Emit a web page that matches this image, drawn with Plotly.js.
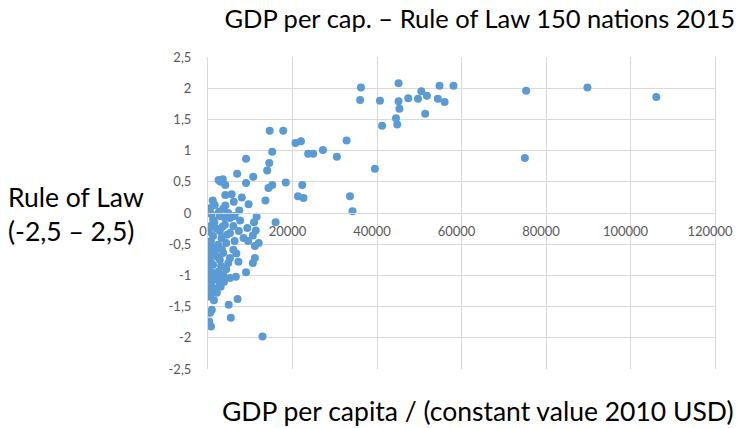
<!DOCTYPE html>
<html>
<head>
<meta charset="utf-8">
<script src="https://cdn.plot.ly/plotly-3.0.1.min.js"></script>
<style>html,body{margin:0;padding:0;background:#fff;}#chart{width:739px;height:428px;}</style>
</head>
<body>
<div id="chart"></div>
<script>
// GDP per capita (constant 2010 USD)
const gdpPerCapita = [
  36200, 36000, 14600, 17800, 20700, 22000, 15200, 23700, 24900, 27200,
  30500, 32800, 9000, 14500, 14000, 6900, 10700, 2500, 3500, 3000,
  4100, 9000, 15200, 14300, 18400, 22300, 21300, 22600, 33600, 34200,
  4100, 6100, 9600, 13600, 7400, 500, 1600, 3600,
  45100, 54800, 58100, 50500, 51800, 49700, 47400, 45100, 45300, 40700,
  54400, 56000, 51400, 44500, 44800, 41200, 75300, 75000, 39500,
  89800, 106100,
  12900, 16000, 11500, 10900, 7600, 5200, 2800, 1200, 500, 4000,
  6000, 9300, 7300, 5200, 2800, 1200, 10600, 9500, 11100, 6300,
  4300, 2400, 500, 6000, 3600, 1200, 100, 5200, 2800, 11100,
  10600, 7200, 4800, 1200, 100, 2400, 3600, 5200, 1600, 100,
  2800, 1200, 500, 4900, 7000, 500, 5400, 300, 700, 500,
  4000, 6300, 4800,
  800, 1900, 3200, 700, 1900, 3100, 600, 1900, 400, 2100,
  900, 3800, 4300, 1500, 3400, 6700, 8400, 3300, 1000, 2200,
  800, 4500, 200, 2600, 5600, 8000, 1400, 6600, 3000, 12000,
  11300, 9000, 900, 300, 2300, 700, 4100, 1100
];
// Rule of Law index (-2.5 .. 2.5)
const ruleOfLaw = [
  2.01, 1.81, 1.32, 1.32, 1.12, 1.15, 0.98, 0.95, 0.95, 1.01,
  0.90, 1.16, 0.87, 0.80, 0.68, 0.63, 0.58, 0.53, 0.54, 0.50,
  0.45, 0.48, 0.45, 0.40, 0.49, 0.45, 0.27, 0.24, 0.27, 0.03,
  0.29, 0.18, 0.14, 0.20, 0.04, 0.08, 0.13, 0.07,
  2.08, 2.04, 2.04, 1.95, 1.88, 1.83, 1.84, 1.79, 1.67, 1.80,
  1.83, 1.78, 1.59, 1.52, 1.42, 1.40, 1.96, 0.88, 0.71,
  2.01, 1.86,
  -1.98, -0.15, -0.06, -0.15, -0.12, -0.08, -0.05, -0.11, -0.21, -0.19,
  -0.21, -0.24, -0.29, -0.32, -0.29, -0.37, -0.36, -0.45, -0.53, -0.45,
  -0.48, -0.51, -0.53, -0.59, -0.64, -0.67, -0.61, -0.72, -0.75, -0.72,
  -0.80, -0.78, -0.80, -0.83, -0.88, -0.94, -0.99, -1.04, -1.07, -1.12,
  -1.15, -1.20, -1.34, -1.47, -1.38, -1.60, -1.68, -1.74, -1.82, -1.18,
  -0.08, -0.05, 0.00,
  -0.02, -0.25, -0.40, -0.45, -0.58, -0.85, -0.78, -0.98, -1.00, -1.28,
  -1.25, -1.10, -0.90, -0.15, -0.22, -0.65, -0.40, -0.58, -0.55, -0.70,
  -0.95, -0.35, -0.30, 0.02, 0.30, 0.25, -1.40, -1.02, -1.18, -0.48,
  -0.28, -0.95, -1.55, -0.70, -1.05, -1.12, 0.12, 0.20
];
const xTickVals = [0, 20000, 40000, 60000, 80000, 100000, 120000];
const xTickText = ['0', '20000', '40000', '60000', '80000', '100000', '120000'];
const yTickVals = [-2.5, -2, -1.5, -1, -0.5, 0, 0.5, 1, 1.5, 2, 2.5];
const yTickText = ['-2,5', '-2', '-1,5', '-1', '-0,5', '0', '0,5', '1', '1,5', '2', '2,5'];
const chartTitle = 'GDP per cap. – Rule of Law 150 nations 2015';
const xTitle = 'GDP per capita / (constant value 2010 USD)';
const yTitle = 'Rule of Law<br>(-2,5 – 2,5)';

const grid = '#d9d9d9';
const fam = 'Lato, "Liberation Sans", sans-serif';
const tickFont = {family: fam, size: 13, color: '#595959'};
const titleFont = {family: fam, size: 25.5, color: '#000000'};
const axFont = {family: fam, size: 26.5, color: '#000000'};

const trace = {
  type: 'scatter', mode: 'markers',
  x: gdpPerCapita, y: ruleOfLaw,
  marker: {color: '#5b9bd5', size: 8},
  hoverinfo: 'x+y'
};

const layout = {
  width: 739, height: 428,
  margin: {l: 208, r: 24, t: 57, b: 59},
  paper_bgcolor: '#ffffff', plot_bgcolor: '#ffffff',
  showlegend: false,
  title: {text: chartTitle, font: titleFont, xref: 'container', x: 735/739, xanchor: 'right',
          yref: 'container', y: 1 - 19/428, yanchor: 'middle'},
  xaxis: {
    range: [0, 120000], tickvals: xTickVals, ticktext: xTickText,
    showgrid: true, gridcolor: grid, gridwidth: 1,
    zeroline: false, showline: true, linecolor: grid, mirror: true,
    anchor: 'free', position: 0.5, ticks: '', ticklabelstandoff: 6,
    ticklabelshift: -5,
    tickfont: tickFont, fixedrange: true
  },
  yaxis: {
    range: [-2.5, 2.5], tickvals: yTickVals, ticktext: yTickText,
    showgrid: true, gridcolor: grid, gridwidth: 1,
    zeroline: true, zerolinecolor: grid, zerolinewidth: 1,
    showline: true, linecolor: grid, mirror: true,
    ticks: '', ticklabelstandoff: 13, tickfont: tickFont, fixedrange: true
  },
  annotations: [
    {text: yTitle, xref: 'paper', yref: 'paper', x: (6 - 208) / 507, y: (369 - 214) / 312,
     xanchor: 'left', yanchor: 'middle', align: 'left', showarrow: false, font: axFont},
    {text: xTitle, xref: 'paper', yref: 'paper', x: (736 - 208) / 507, y: (369 - 411) / 312,
     xanchor: 'right', yanchor: 'middle', showarrow: false, font: axFont}
  ]
};

Plotly.newPlot('chart', [trace], layout, {displayModeBar: false, staticPlot: true});
</script>
</body>
</html>
